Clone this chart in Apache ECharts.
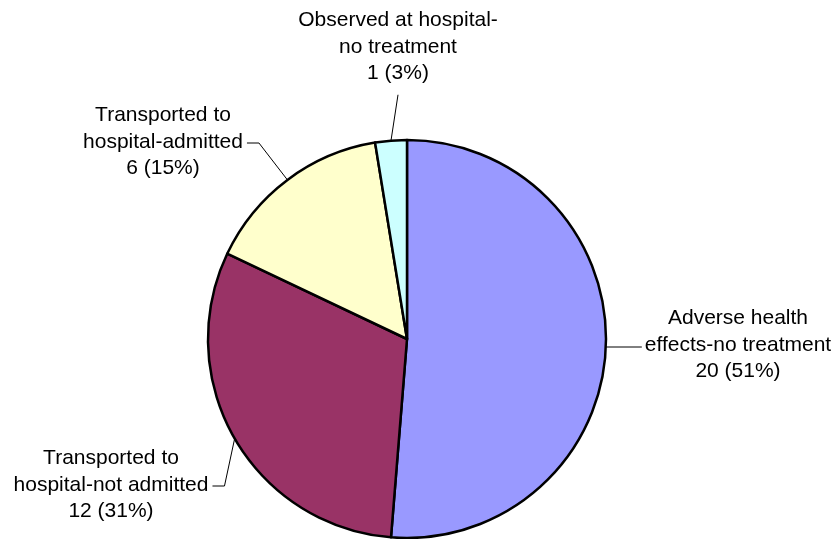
<!DOCTYPE html>
<html>
<head>
<meta charset="utf-8">
<script src="https://cdn.jsdelivr.net/npm/echarts@6/dist/echarts.min.js"></script>
<style>
  html, body { margin: 0; padding: 0; background: #ffffff; }
  #chart { width: 839px; height: 539px; }
</style>
</head>
<body>
<div id="chart"></div>
<script>
// Outcome categories (line breaks as shown in the labels)
const categories = [
  'Adverse health\neffects-no treatment',
  'Transported to\nhospital-not admitted',
  'Transported to\nhospital-admitted',
  'Observed at hospital-\nno treatment'
];
const counts = [20, 12, 6, 1];
const sliceColors = ['#9999FF', '#993366', '#FFFFCC', '#CCFFFF'];

// Label block centres and the side the leader line leaves from
const labelCentres = [[738, 345], [111, 485], [163, 142], [398, 47]];
const leaderSide = ['left', 'right', 'right', 'bottom'];

const chart = echarts.init(document.getElementById('chart'), null, { renderer: 'canvas' });

const data = categories.map((name, i) => ({
  name: name,
  value: counts[i],
  itemStyle: { color: sliceColors[i] }
}));

chart.setOption({
  animation: false,
  backgroundColor: '#ffffff',
  series: [{
    type: 'pie',
    center: [407, 339],
    radius: 199,
    startAngle: 90,
    clockwise: true,
    percentPrecision: 0,
    avoidLabelOverlap: false,
    itemStyle: { borderColor: '#000000', borderWidth: 2.5 },
    emphasis: { disabled: true },
    label: {
      show: true,
      formatter: '{b}\n{c} ({d}%)',
      fontFamily: '"Liberation Sans", Arial, sans-serif',
      fontSize: 21,
      lineHeight: 26.5,
      color: '#000000',
      align: 'center'
    },
    labelLine: {
      show: true,
      length: 10,
      length2: 10,
      lineStyle: { color: '#000000', width: 1 }
    },
    // Place each label block and route its leader from the slice's mid-angle edge point
    labelLayout: function (params) {
      const i = params.dataIndex;
      const c = labelCentres[i];
      const w = params.labelRect.width;
      const h = params.labelRect.height;
      const start = params.labelLinePoints ? params.labelLinePoints[0] : null;
      const out = { x: c[0], y: c[1], align: 'center', verticalAlign: 'middle', moveOverlap: null };
      if (start) {
        const side = leaderSide[i];
        let pts;
        if (side === 'left') {
          pts = [start, [c[0] - w / 2 - 3, start[1]]];
        } else if (side === 'right') {
          const x0 = c[0] + w / 2 + 4;
          pts = [start, [x0 + 12, c[1] + 1], [x0, c[1] + 1]];
        } else {
          pts = [start, [c[0], c[1] + h / 2 + 8]];
        }
        out.labelLinePoints = pts;
      }
      return out;
    },
    data: data
  }]
});
</script>
</body>
</html>
